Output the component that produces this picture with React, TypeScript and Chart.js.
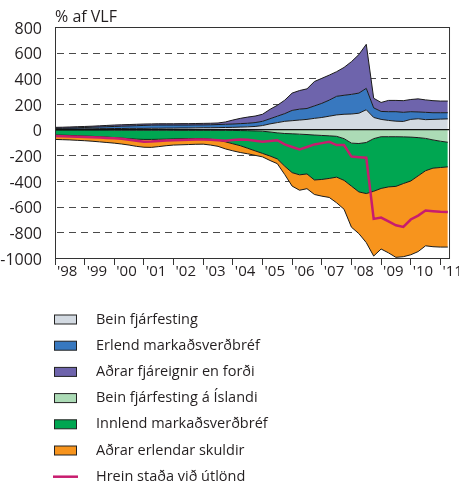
import React, { useEffect, useRef } from "react";
import { Chart, registerables } from "chart.js";
Chart.register(...registerables);

// Quarterly observations, 1998 Q1 .. 2011 Q2 (% of GDP)
const yearLabels = ["'98", "'99", "'00", "'01", "'02", "'03", "'04", "'05", "'06", "'07", "'08", "'09", "'10", "'11"];

const beinFjarfesting = [5, 5, 6, 6, 7, 7, 8, 8, 9, 9, 10, 10, 10, 11, 11, 12, 12, 13, 13, 14, 15, 15, 16, 17, 18, 20, 22, 25, 32, 45, 55, 65, 70, 75, 80, 88, 95, 105, 115, 120, 122, 128, 155, 95, 80, 72, 66, 64, 80, 85, 78, 80, 82, 84];
const erlendMarkadsverdbref = [5, 6, 7, 9, 10, 12, 13, 15, 16, 18, 19, 21, 23, 24, 25, 24, 24, 23, 23, 23, 22, 23, 24, 25, 26, 27, 28, 30, 33, 40, 50, 60, 80, 85, 85, 97, 110, 125, 145, 148, 153, 157, 167, 75, 62, 68, 74, 71, 60, 53, 57, 52, 50, 48];
const adrarFjareignir = [8, 8, 8, 8, 8, 8, 9, 10, 11, 11, 11, 11, 11, 10, 10, 10, 10, 11, 11, 11, 12, 12, 12, 18, 31, 41, 48, 51, 55, 73, 85, 105, 135, 145, 153, 190, 195, 195, 192, 217, 255, 300, 343, 75, 70, 88, 88, 91, 95, 102, 97, 94, 91, 91];
const beinFjarfestingIslandi = [-3, -3, -3, -3, -3, -3, -3, -3, -4, -4, -4, -4, -4, -4, -4, -4, -5, -5, -5, -5, -5, -5, -5, -5, -6, -7, -8, -10, -12, -18, -25, -30, -32, -35, -38, -42, -45, -48, -52, -70, -105, -108, -100, -70, -55, -55, -55, -56, -58, -62, -68, -80, -90, -98];
const innlendMarkadsverdbref = [-39, -40, -42, -44, -47, -49, -52, -55, -58, -62, -66, -70, -72, -72, -71, -70, -67, -65, -65, -65, -65, -70, -77, -90, -104, -118, -137, -155, -173, -187, -203, -255, -303, -317, -307, -350, -343, -332, -318, -325, -335, -377, -398, -410, -403, -391, -387, -364, -342, -298, -252, -220, -205, -192];
const adrarErlendarSkuldir = [-34, -35, -35, -36, -36, -38, -40, -42, -43, -46, -50, -56, -61, -62, -57, -51, -48, -48, -46, -44, -43, -45, -48, -55, -55, -53, -43, -35, -27, -35, -37, -65, -105, -120, -115, -113, -130, -148, -200, -225, -320, -325, -382, -505, -472, -514, -553, -570, -575, -590, -585, -612, -620, -625];
const hreinStada = [-50, -52, -54, -56, -58, -60, -62, -64, -66, -70, -78, -86, -94, -92, -88, -85, -82, -80, -78, -76, -76, -78, -82, -86, -80, -76, -78, -86, -94, -88, -82, -115, -135, -154, -135, -115, -105, -95, -120, -120, -210, -214, -218, -695, -685, -715, -745, -758, -700, -670, -630, -635, -640, -641];

const seriesNames = [
  "Bein fjárfesting",
  "Erlend markaðsverðbréf",
  "Aðrar fjáreignir en forði",
  "Bein fjárfesting á Íslandi",
  "Innlend markaðsverðbréf",
  "Aðrar erlendar skuldir",
  "Hrein staða við útlönd",
];
const seriesColors = ["#d3dae2", "#3878bf", "#6e64ac", "#acdbb6", "#00a651", "#f7941d", "#c81c6e"];

const yTicks = [-1000, -800, -600, -400, -200, 0, 200, 400, 600, 800];
const dashedLines = [-800, -600, -400, -200, 200, 400, 600];

const FONT = "'Open Sans', 'DejaVu Sans', sans-serif";
const TEXT = "#231f20";
const OUTLINE = "#1a1a1a";

function cumulate(list: number[][]): number[][] {
  const out: number[][] = [];
  let acc = list[0].map(() => 0);
  for (const s of list) {
    acc = acc.map((a, i) => a + s[i]);
    out.push(acc.slice());
  }
  return out;
}

const framePlugin = {
  id: "frameAndLegend",
  beforeDatasetsDraw(chart: any) {
    const { ctx, chartArea } = chart;
    const ys = chart.scales.y;
    ctx.save();
    ctx.strokeStyle = "#4a4a4a";
    ctx.lineWidth = 1;
    ctx.setLineDash([7, 5]);
    dashedLines.forEach((v) => {
      const y = Math.round(ys.getPixelForValue(v)) + 0.5;
      ctx.beginPath();
      ctx.moveTo(chartArea.left + 2, y);
      ctx.lineTo(chartArea.right - 4, y);
      ctx.stroke();
    });
    ctx.restore();
  },
  afterDatasetsDraw(chart: any) {
    const { ctx, chartArea } = chart;
    const y0 = chart.scales.y.getPixelForValue(0);
    ctx.save();
    ctx.strokeStyle = "#111";
    ctx.lineWidth = 1.2;
    ctx.beginPath();
    ctx.moveTo(chartArea.left, y0);
    ctx.lineTo(chartArea.right, y0);
    ctx.stroke();
    ctx.strokeStyle = "#333";
    ctx.lineWidth = 1;
    ctx.strokeRect(chartArea.left + 0.5, chartArea.top + 0.5, chartArea.right - chartArea.left - 1, chartArea.bottom - chartArea.top);
    ctx.restore();
  },
  afterDraw(chart: any) {
    const { ctx, chartArea } = chart;
    ctx.save();
    ctx.fillStyle = TEXT;
    ctx.font = `16px ${FONT}`;
    ctx.textAlign = "left";
    ctx.textBaseline = "alphabetic";
    ctx.fillText("% af VLF", chartArea.left, 22);

    ctx.font = `14.5px ${FONT}`;
    ctx.textBaseline = "middle";
    seriesNames.forEach((name, k) => {
      const cy = 319.5 + 26.2 * k;
      if (k < 6) {
        ctx.fillStyle = seriesColors[k];
        ctx.fillRect(54, cy - 4.5, 23, 9);
        ctx.strokeStyle = "#222";
        ctx.lineWidth = 1;
        ctx.strokeRect(54.5, cy - 4.5, 22, 9);
      } else {
        ctx.strokeStyle = seriesColors[k];
        ctx.lineWidth = 2.5;
        ctx.beginPath();
        ctx.moveTo(53, cy);
        ctx.lineTo(78, cy);
        ctx.stroke();
      }
      ctx.fillStyle = TEXT;
      ctx.fillText(name, 96, cy);
    });
    ctx.restore();
  },
};

export default function App() {
  const ref = useRef<HTMLCanvasElement | null>(null);
  useEffect(() => {
    document.body.style.margin = "0";
    const pos = cumulate([beinFjarfesting, erlendMarkadsverdbref, adrarFjareignir]);
    const neg = cumulate([beinFjarfestingIslandi, innlendMarkadsverdbref, adrarErlendarSkuldir]);
    const toPts = (arr: number[]) => arr.map((v, i) => ({ x: i, y: v }));
    const area = (k: number, data: number[], fill: any) => ({
      label: seriesNames[k],
      data: toPts(data),
      backgroundColor: seriesColors[k],
      borderColor: OUTLINE,
      borderWidth: 1,
      pointRadius: 0,
      tension: 0,
      fill,
      order: 1,
    });
    const chart = new Chart(ref.current as HTMLCanvasElement, {
      type: "line",
      data: {
        datasets: [
          {
            label: seriesNames[6],
            data: toPts(hreinStada),
            borderColor: seriesColors[6],
            backgroundColor: seriesColors[6],
            borderWidth: 2.5,
            pointRadius: 0,
            tension: 0,
            fill: false,
            order: 0,
          } as any,
          area(0, pos[0], "origin"),
          area(1, pos[1], "-1"),
          area(2, pos[2], "-1"),
          area(3, neg[0], "origin"),
          area(4, neg[1], "-1"),
          area(5, neg[2], "-1"),
        ],
      },
      options: {
        animation: false,
        responsive: false,
        maintainAspectRatio: false,
        layout: { padding: { left: 0, right: 7, top: 27, bottom: 0 } },
        plugins: { legend: { display: false }, tooltip: { enabled: false }, title: { display: false } },
        scales: {
          x: {
            type: "linear",
            min: 0,
            max: 53.3,
            afterFit: (s: any) => { s.height = 228; },
            afterBuildTicks: (s: any) => { s.ticks = yearLabels.map((_, k) => ({ value: k * 4 })); },
            grid: { drawOnChartArea: false, drawTicks: true, tickLength: 7, color: "#333", lineWidth: 1 },
            border: { display: false },
            ticks: {
              autoSkip: false,
              maxRotation: 0,
              align: "start",
              labelOffset: 2,
              padding: -2,
              color: TEXT,
              font: { family: FONT, size: 15 },
              callback: (v: any) => yearLabels[Math.round(Number(v) / 4)] ?? "",
            },
          },
          y: {
            min: -1000,
            max: 800,
            afterFit: (s: any) => { s.width = 55; },
            afterBuildTicks: (s: any) => { s.ticks = yTicks.map((v) => ({ value: v })); },
            grid: { display: false },
            border: { display: false },
            ticks: {
              padding: 5,
              labelOffset: 2,
              color: TEXT,
              font: { family: FONT, size: 16 },
              callback: (v: any) => String(v),
            },
          },
        },
      } as any,
      plugins: [framePlugin],
    });
    return () => chart.destroy();
  }, []);
  return <canvas ref={ref} width={459} height={486} style={{ display: "block", width: 459, height: 486 }} />;
}
